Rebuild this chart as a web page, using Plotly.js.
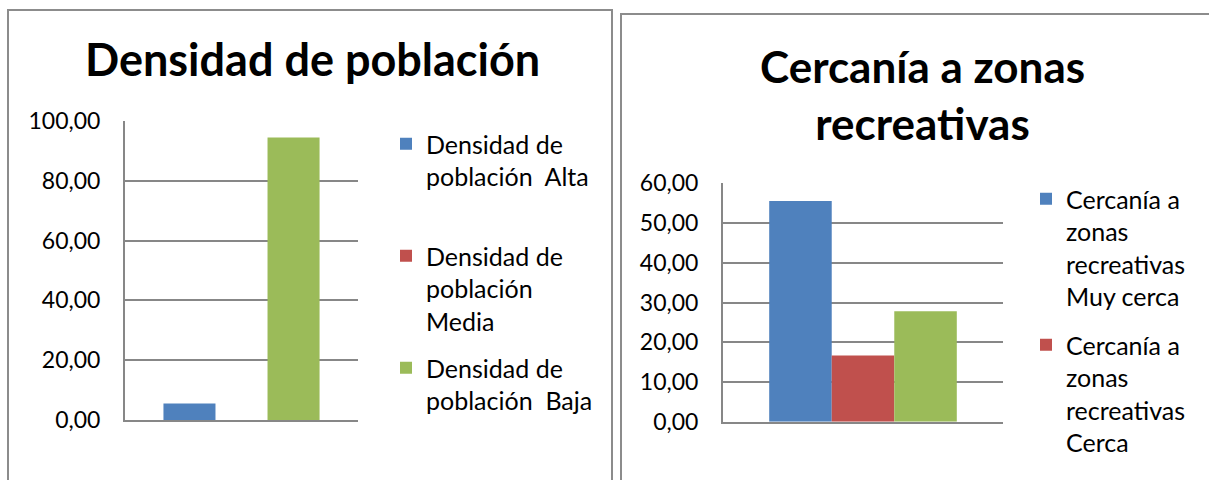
<!DOCTYPE html>
<html>
<head>
<meta charset="utf-8">
<script src="https://cdn.plot.ly/plotly-3.0.1.min.js"></script>
<style>html,body{margin:0;padding:0;background:#fff;}#chart{width:1209px;height:480px;}</style>
</head>
<body>
<div id="chart"></div>
<script>
// Left chart: Densidad de población
const densTitle = "Densidad de población";
const densSeries = ["Densidad de población  Alta", "Densidad de población Media", "Densidad de población  Baja"];
const densLegend = ["Densidad de<br>población\u00a0\u00a0Alta<br> ", "Densidad de<br>población<br>Media", "Densidad de<br>población\u00a0\u00a0Baja<br> "];
const densValues = [5.56, 0.00, 94.44];

// Right chart: Cercanía a zonas recreativas
const cercTitle = "Cercanía a zonas<br>recreativas";
const cercSeries = ["Cercanía a zonas recreativas Muy cerca", "Cercanía a zonas recreativas Cerca", "Cercanía a zonas recreativas Lejos"];
const cercLegend = ["Cercanía a<br>zonas<br>recreativas<br>Muy cerca", "Cercanía a<br>zonas<br>recreativas<br>Cerca", "Cercanía a<br>zonas<br>recreativas<br>Lejos"];
const cercValues = [55.56, 16.67, 27.78];
const cercShowLegend = [true, true, false];

const colors = ["#4f81bd", "#c0504d", "#9bbb59"];
const FONT = "Lato, 'Open Sans', sans-serif";
const W = 1209, H = 480;
const px = v => v / W;
const py = v => 1 - v / H;

const traces = [];
densSeries.forEach((s, i) => {
  traces.push({
    type: "bar", x: [densTitle], y: [densValues[i]], name: densLegend[i],
    marker: {color: colors[i]}, xaxis: "x", yaxis: "y",
    legend: "legend", legendgroup: "d" + i, hoverinfo: "y+name"
  });
});
cercSeries.forEach((s, i) => {
  traces.push({
    type: "bar", x: ["Cercanía a zonas recreativas"], y: [cercValues[i]], name: cercLegend[i],
    marker: {color: colors[i]}, xaxis: "x2", yaxis: "y2", showlegend: cercShowLegend[i],
    legend: "legend2", legendgroup: "c" + i, hoverinfo: "y+name"
  });
});

const gridColor = "#878787";
const yCommon = {
  showgrid: true, gridcolor: gridColor, gridwidth: 2,
  showline: true, linecolor: gridColor, linewidth: 2,
  zeroline: false, ticks: "", tickformat: ".2f",
  tickfont: {family: FONT, size: 23, color: "#000"}, ticklabelstandoff: 18, fixedrange: true
};
const xCommon = {
  showgrid: false, showline: true, linecolor: gridColor, linewidth: 2,
  showticklabels: false, ticks: "", fixedrange: true
};

const layout = {
  width: W, height: H,
  margin: {l: 0, r: 0, t: 0, b: 0},
  paper_bgcolor: "#fff", plot_bgcolor: "rgba(0,0,0,0)",
  separators: ",.",
  barmode: "group", bargap: 0.33, bargroupgap: 0,
  font: {family: FONT, color: "#000"},
  xaxis: Object.assign({}, xCommon, {domain: [px(125), px(358)], anchor: "y"}),
  yaxis: Object.assign({}, yCommon, {domain: [py(420), py(121)], range: [0, 100], dtick: 20, anchor: "x"}),
  xaxis2: Object.assign({}, xCommon, {domain: [px(723), px(1003)], anchor: "y2"}),
  yaxis2: Object.assign({}, yCommon, {domain: [py(421.7), py(183.3)], range: [0, 60], dtick: 10, anchor: "x2"}),
  legend: {
    x: px(386), y: py(121), xanchor: "left", yanchor: "top",
    font: {family: FONT, size: 25, color: "#000"}, valign: "top",
    traceorder: "grouped", tracegroupgap: 11.5, bgcolor: "rgba(0,0,0,0)", itemclick: false
  },
  legend2: {
    x: px(1026), y: py(176), xanchor: "left", yanchor: "top",
    font: {family: FONT, size: 25, color: "#000"}, valign: "top",
    traceorder: "grouped", tracegroupgap: 13, bgcolor: "rgba(0,0,0,0)", itemclick: false
  },
  annotations: [
    {text: "<b>" + densTitle + "</b>", xref: "paper", yref: "paper", x: px(312), y: py(59),
     xanchor: "center", yanchor: "middle", showarrow: false, font: {family: FONT, size: 45, color: "#000"}},
    {text: "<b>" + cercTitle + "</b>", xref: "paper", yref: "paper", x: px(922), y: py(95),
     xanchor: "center", yanchor: "middle", showarrow: false, align: "center",
     font: {family: FONT, size: 44, color: "#000"}}
  ],
  shapes: [
    {type: "rect", xref: "paper", yref: "paper", x0: px(8), x1: px(612), y0: -0.2, y1: py(10),
     line: {color: "#8c8c8c", width: 2}, fillcolor: "rgba(0,0,0,0)", layer: "below"},
    {type: "rect", xref: "paper", yref: "paper", x0: px(621), x1: 1.2, y0: -0.2, y1: py(14),
     line: {color: "#8c8c8c", width: 2}, fillcolor: "rgba(0,0,0,0)", layer: "below"}
  ]
};

Plotly.newPlot("chart", traces, layout, {staticPlot: true, displayModeBar: false});
</script>
</body>
</html>
